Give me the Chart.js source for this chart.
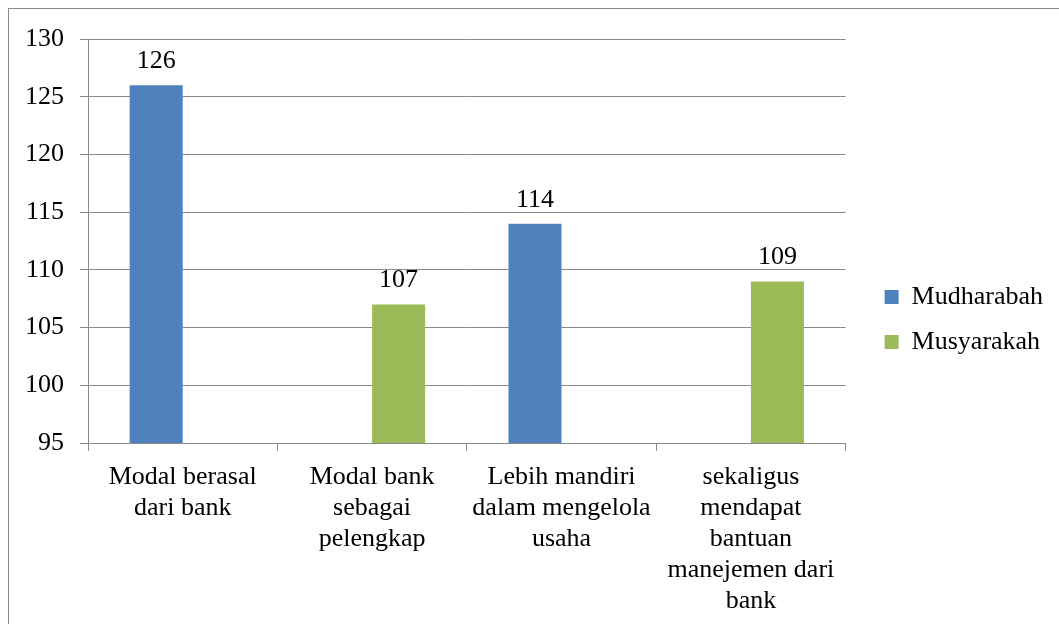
<!DOCTYPE html>
<html>
<head>
<meta charset="utf-8">
<script src="https://cdn.jsdelivr.net/npm/chart.js@4.4.0/dist/chart.umd.min.js"></script>
<style>
  html, body { margin: 0; padding: 0; background: #fff; overflow: hidden; }
  #wrap { position: relative; width: 1059px; height: 624px; }
  #frame { position: absolute; left: 8px; top: 8px; width: 1100px; height: 700px; border: 1px solid #8a8a8a; box-sizing: border-box; }
  #box { position: absolute; left: 0; top: 0; width: 1059px; height: 624px; }
</style>
</head>
<body>
<div id="wrap">
  <div id="frame"></div>
  <div id="box"><canvas id="c"></canvas></div>
</div>
<script>
const categories = [
  ["Modal berasal", "dari bank"],
  ["Modal bank", "sebagai", "pelengkap"],
  ["Lebih mandiri", "dalam mengelola", "usaha"],
  ["sekaligus", "mendapat", "bantuan", "manejemen dari", "bank"]
];
const mudharabah = [126, null, 114, null];
const musyarakah = [null, 107, null, 109];
const seriesNames = ["Mudharabah", "Musyarakah"];
const yMin = 95, yMax = 130, yStep = 5;

const FONT = "'Liberation Serif', 'Times New Roman', serif";
const GRID = "#8a8a8a";

const dataLabels = {
  id: 'dataLabels',
  afterDatasetsDraw(chart) {
    const ctx = chart.ctx;
    ctx.save();
    ctx.font = "26px " + FONT;
    ctx.fillStyle = "#000";
    ctx.textAlign = "center";
    ctx.textBaseline = "middle";
    chart.data.datasets.forEach((ds, i) => {
      const meta = chart.getDatasetMeta(i);
      meta.data.forEach((el, j) => {
        const v = ds.data[j];
        if (v === null || v === undefined) return;
        ctx.fillText(String(v), el.x, el.y - 24);
      });
    });
    ctx.restore();
  }
};

new Chart(document.getElementById('c'), {
  type: 'bar',
  data: {
    labels: categories,
    datasets: [
      { label: seriesNames[0], data: mudharabah, backgroundColor: "#4F81BD", borderWidth: 0 },
      { label: seriesNames[1], data: musyarakah, backgroundColor: "#9BBB59", borderWidth: 0 }
    ]
  },
  options: {
    responsive: true,
    maintainAspectRatio: false,
    animation: false,
    devicePixelRatio: 1,
    layout: { padding: { left: 0, top: 15, right: 6, bottom: 0 } },
    datasets: { bar: { barPercentage: 1.0, categoryPercentage: 0.56 } },
    plugins: {
      legend: {
        position: 'right',
        labels: {
          font: { family: FONT, size: 26 },
          color: "#000",
          boxWidth: 14,
          boxHeight: 14,
          padding: 19
        }
      },
      tooltip: { enabled: false }
    },
    scales: {
      x: {
        afterFit(scale) { scale.height = 181; },
        grid: { drawOnChartArea: false, drawTicks: true, tickLength: 8, color: GRID, offset: true },
        border: { color: GRID, width: 1 },
        ticks: {
          font: { family: FONT, size: 26, lineHeight: 1.19 },
          color: "#000",
          maxRotation: 0, minRotation: 0, autoSkip: false,
          padding: 11
        }
      },
      xTopSpace: {
        type: 'category',
        position: 'top',
        display: false,
        afterFit(scale) { scale.height = 24; }
      },
      y: {
        min: yMin, max: yMax,
        afterFit(scale) { scale.width = 88; },
        grid: { color: GRID, lineWidth: 1, drawTicks: true, tickLength: 8 },
        border: { color: GRID, width: 1 },
        ticks: {
          stepSize: yStep,
          font: { family: FONT, size: 26 },
          color: "#000",
          padding: 16
        }
      },
      yRightSpace: {
        type: 'linear',
        position: 'right',
        display: false,
        afterFit(scale) { scale.width = 20; }
      }
    }
  },
  plugins: [dataLabels]
});
</script>
</body>
</html>
